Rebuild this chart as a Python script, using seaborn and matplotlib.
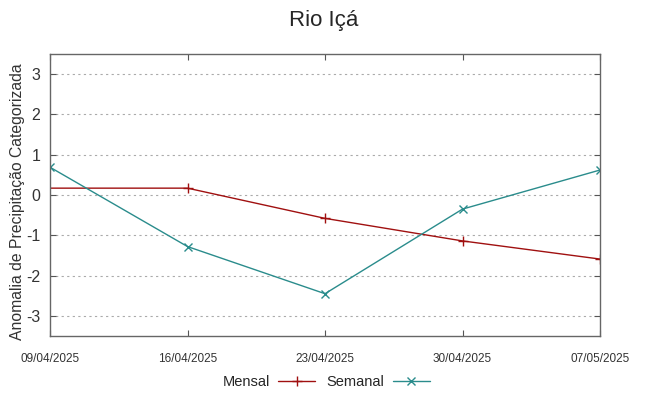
import pandas as pd
import numpy as np
import matplotlib
matplotlib.use("Agg")
import matplotlib.pyplot as plt
import seaborn as sns

# Datas e valores
datas = ["2025-04-09", "2025-04-16", "2025-04-23", "2025-04-30", "2025-05-07"]
mensal = [0.17, 0.17, -0.58, -1.14, -1.59]
semanal = [0.69, -1.28, -2.45, -0.35, 0.62]
ticks = ["09/04/2025", "16/04/2025", "23/04/2025", "30/04/2025", "07/05/2025"]

df = pd.DataFrame({"data": pd.to_datetime(datas), "Mensal": mensal, "Semanal": semanal})

sns.set_style("ticks")
plt.rcParams["font.family"] = ["Liberation Sans", "DejaVu Sans"]

fig = plt.figure(figsize=(6.48, 3.96), dpi=100)
ax = fig.add_axes([50/648, 1-336/396, 550/648, 282/396])

cor_m = "#a01010"
cor_s = "#2a8c8c"
sns.lineplot(data=df, x="data", y="Mensal", ax=ax, color=cor_m, marker="+",
             markersize=7, markeredgewidth=1, markeredgecolor=cor_m, linewidth=1,
             label="Mensal", markevery=[1, 2, 3, 4])
sns.lineplot(data=df, x="data", y="Semanal", ax=ax, color=cor_s, marker="x",
             markersize=6, markeredgewidth=1, markeredgecolor=cor_s, linewidth=1,
             label="Semanal")

ax.set_xlim(df["data"].iloc[0], df["data"].iloc[-1])
ax.set_ylim(-3.5, 3.5)
ax.set_xticks(df["data"])
ax.set_xticklabels(ticks, fontsize=8.5, color="#333333")
ax.set_yticks([-3, -2, -1, 0, 1, 2, 3])
ax.set_yticklabels(["-3", "-2", "-1", "0", "1", "2", "3"], fontsize=11.5, color="#333333")
ax.tick_params(direction="in", top=True, right=True, length=4, color="#555555")
ax.tick_params(axis="x", pad=12)
ax.tick_params(axis="y", pad=7)
ax.yaxis.grid(True, linestyle=(0, (2, 3)), color="#aaaaaa", linewidth=0.8)
for s in ax.spines.values():
    s.set_color("#666666")
    s.set_linewidth(1)

ax.set_xlabel("")
ax.set_ylabel("Anomalia de Precipitação Categorizada", fontsize=11.3, color="#333333")
ax.yaxis.set_label_coords(-0.046, 0.478)
fig.suptitle("Rio Içá", fontsize=16, y=0.975)

ax.get_legend().remove()
h, l = ax.get_legend_handles_labels()
fig.legend(h, l, loc="center", bbox_to_anchor=(0.503, 1-382/396), ncol=2, frameon=False,
           markerfirst=False, fontsize=10.5, handlelength=2.5, columnspacing=0.8, handletextpad=0.6)

fig.savefig("out.png", dpi=100)
